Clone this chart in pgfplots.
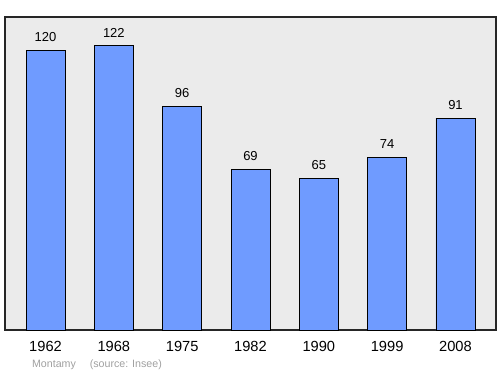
\documentclass[border=0pt]{standalone}
\usepackage{pgfplots}
\pgfplotsset{compat=1.18}
\usepackage{fontspec}
\setmainfont{Liberation Sans}
\definecolor{barblue}{RGB}{111,155,255}
\definecolor{bggrey}{RGB}{235,235,235}
\definecolor{srcgrey}{RGB}{160,160,160}
\begin{document}
\begin{tikzpicture}
\useasboundingbox (0pt,0pt) rectangle (375pt,280.5pt);
\begin{axis}[
  at={(3.75pt,33pt)}, anchor=south west,
  scale only axis, width=368.25pt, height=234.75pt,
  xmin=-0.593, xmax=6.593, ymin=0, ymax=134.4,
  axis background/.style={fill=bggrey},
  axis line style={line width=1.1pt, draw=black!85},
  ytick=\empty,
  xtick={0,1,2,3,4,5,6},
  xticklabels={1962,1968,1975,1982,1990,1999,2008},
  major tick length=0pt,
  xticklabel style={font=\fontsize{11}{13}\selectfont, yshift=-5pt},
  /pgf/number format/assume math mode=true,
  nodes near coords,
  every node near coord/.style={font=\fontsize{9.75}{11}\selectfont, yshift=3pt},
  clip=false,
]
\addplot[ybar, bar width=29.25pt, fill=barblue, draw=black, line width=0.6pt]
  coordinates {(0,120) (1,122) (2,96) (3,69) (4,65) (5,74) (6,91)};
\end{axis}
\node[anchor=west, text=srcgrey, font=\fontsize{8}{9}\selectfont] at (20.5pt,7pt) {Montamy\hspace{1.3em}(source: Insee)};
\end{tikzpicture}
\end{document}
